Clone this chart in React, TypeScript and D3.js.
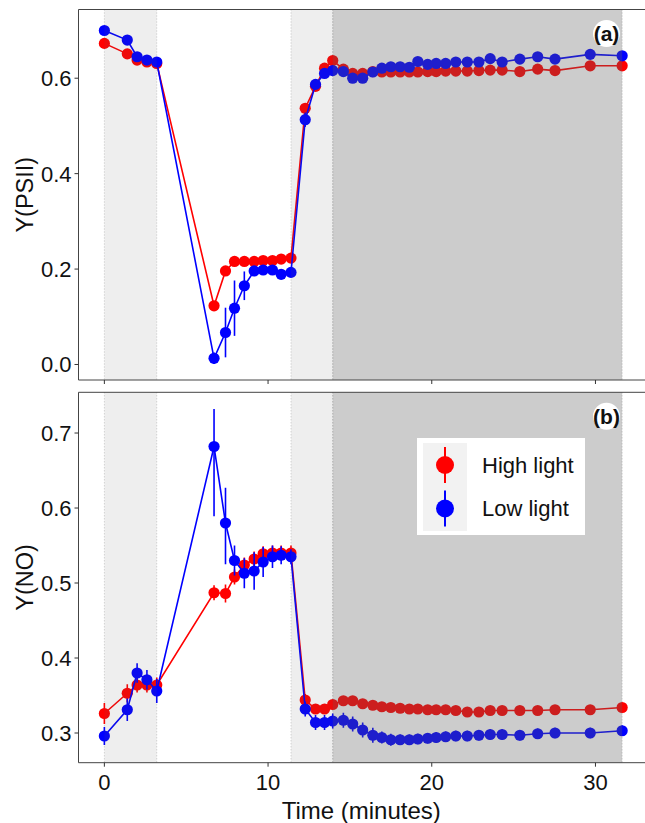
import React from 'react';
import * as d3 from 'd3';

// sampling times (minutes), shared by both panels
const time = [
  0, 1.4, 2.0, 2.6, 3.2,
  6.7, 7.4, 7.95, 8.55, 9.15, 9.7, 10.27, 10.8, 11.4,
  12.27, 12.9, 13.45, 13.95, 14.6, 15.17, 15.78, 16.4, 16.95, 17.5,
  18.07, 18.63, 19.15, 19.75, 20.27, 20.85, 21.47, 22.17, 22.88, 23.57,
  24.3, 25.38, 26.47, 27.53, 29.68, 31.63,
];

// Y(PSII)
const psiiHigh = [
  0.673, 0.651, 0.638, 0.634, 0.631,
  0.123, 0.196, 0.216, 0.216, 0.216, 0.218, 0.218, 0.221, 0.223,
  0.537, 0.583, 0.621, 0.637, 0.619, 0.61, 0.61, 0.614, 0.613, 0.613,
  0.613, 0.613, 0.613, 0.614, 0.614, 0.615, 0.615, 0.615, 0.616, 0.617,
  0.617, 0.614, 0.619, 0.616, 0.626, 0.626,
];
const psiiHighSe = [
  0.008, 0.006, 0.005, 0.005, 0.005,
  0.006, 0.005, 0.004, 0.004, 0.004, 0.004, 0.004, 0.004, 0.004,
  0.006, 0.005, 0.004, 0.004, 0.004, 0.004, 0.004, 0.004, 0.004, 0.004,
  0.004, 0.004, 0.004, 0.004, 0.004, 0.004, 0.004, 0.004, 0.004, 0.004,
  0.004, 0.004, 0.004, 0.004, 0.004, 0.004,
];
const psiiLow = [
  0.7, 0.68, 0.645, 0.638, 0.634,
  0.013, 0.067, 0.118, 0.165, 0.196, 0.198, 0.198, 0.189, 0.193,
  0.513, 0.587, 0.61, 0.616, 0.614, 0.6, 0.6, 0.613, 0.621, 0.624,
  0.624, 0.623, 0.635, 0.629, 0.631, 0.631, 0.634, 0.634, 0.634, 0.641,
  0.634, 0.64, 0.645, 0.64, 0.65, 0.647,
];
const psiiLowSe = [
  0.006, 0.006, 0.006, 0.005, 0.005,
  0.012, 0.052, 0.058, 0.03, 0.008, 0.006, 0.006, 0.01, 0.006,
  0.015, 0.006, 0.005, 0.005, 0.005, 0.005, 0.005, 0.005, 0.006, 0.005,
  0.005, 0.005, 0.006, 0.005, 0.005, 0.005, 0.005, 0.005, 0.005, 0.005,
  0.005, 0.005, 0.005, 0.005, 0.005, 0.005,
];

// Y(NO)
const noHigh = [
  0.326, 0.353, 0.364, 0.364, 0.364,
  0.487, 0.486, 0.508, 0.524, 0.532, 0.539, 0.54, 0.54, 0.54,
  0.344, 0.332, 0.332, 0.338, 0.343, 0.343, 0.339, 0.337, 0.335, 0.334,
  0.333, 0.332, 0.332, 0.331, 0.331, 0.331, 0.33, 0.328, 0.328, 0.33,
  0.33, 0.33, 0.33, 0.331, 0.331, 0.334,
];
const noHighSe = [
  0.014, 0.012, 0.01, 0.01, 0.01,
  0.01, 0.012, 0.01, 0.01, 0.01, 0.01, 0.01, 0.01, 0.01,
  0.008, 0.006, 0.006, 0.006, 0.006, 0.006, 0.006, 0.006, 0.006, 0.006,
  0.005, 0.005, 0.005, 0.005, 0.005, 0.005, 0.005, 0.005, 0.005, 0.005,
  0.005, 0.005, 0.005, 0.005, 0.005, 0.005,
];
const noLow = [
  0.296, 0.331, 0.38, 0.371, 0.356,
  0.682, 0.58, 0.53, 0.513, 0.516, 0.528, 0.535, 0.537, 0.535,
  0.332, 0.314, 0.314, 0.316, 0.317, 0.312, 0.304, 0.297, 0.294, 0.291,
  0.291, 0.291, 0.292, 0.293, 0.294, 0.295, 0.296, 0.296, 0.297, 0.298,
  0.298, 0.297, 0.299, 0.3, 0.3, 0.303,
];
// error bars of the low-light Y(NO) series are not symmetric at the peak
const noLowUp = [
  0.012, 0.015, 0.013, 0.013, 0.016,
  0.05, 0.047, 0.02, 0.02, 0.025, 0.02, 0.015, 0.012, 0.01,
  0.01, 0.01, 0.01, 0.01, 0.01, 0.01, 0.01, 0.01, 0.008, 0.008,
  0.007, 0.007, 0.007, 0.007, 0.007, 0.007, 0.007, 0.007, 0.007, 0.007,
  0.007, 0.007, 0.007, 0.007, 0.007, 0.007,
];
const noLowDown = [
  0.012, 0.015, 0.013, 0.013, 0.016,
  0.093, 0.055, 0.02, 0.02, 0.025, 0.02, 0.015, 0.012, 0.01,
  0.01, 0.01, 0.01, 0.01, 0.01, 0.01, 0.01, 0.01, 0.008, 0.008,
  0.007, 0.007, 0.007, 0.007, 0.007, 0.007, 0.007, 0.007, 0.007, 0.007,
  0.007, 0.007, 0.007, 0.007, 0.007, 0.007,
];

// light phases (shaded bands)
const phaseStart = [0, 11.4, 13.95];
const phaseEnd = [3.2, 13.95, 31.63];
const phaseTone = [0.106, 0.106, 0.318];

const xTicks = [0, 10, 20, 30];
const psiiTicks = [0, 0.2, 0.4, 0.6];
const noTicks = [0.3, 0.4, 0.5, 0.6, 0.7];
const seriesNames = ['High light', 'Low light'];
const seriesColors = ['#ff0000', '#0000ff'];

const FONT = 'Liberation Sans, Arial, Helvetica, sans-serif';
const left = 78.5;
const right = 648;

const x = d3.scaleLinear().domain([-1.58, 33.21]).range([left, right]);

type Series = { v: number[]; up: number[]; down: number[] };

type PanelProps = {
  top: number;
  bottom: number;
  y: d3.ScaleLinear<number, number>;
  series: Series[];
  ticks: number[];
  title: string;
  tag: string;
  xLabels: boolean;
  legend: boolean;
};

const Panel = ({ top, bottom, y, series, ticks, title, tag, xLabels, legend }: PanelProps) => {
  const line = d3
    .line<number>()
    .x((_, i) => x(time[i]))
    .y(d => y(d));

  return (
    <g>
      {/* dotted band edges */}
      {phaseStart.map((s, i) => (
        <g key={'e' + i}>
          {[s, phaseEnd[i]].map((t, j) => (
            <line key={j} x1={x(t)} x2={x(t)} y1={top} y2={bottom}
              stroke="#bdbdbd" strokeWidth={0.8} strokeDasharray="1,2" />
          ))}
        </g>
      ))}

      {series.map((s, k) => (
        <g key={k}>
          <path d={line(s.v) || ''} fill="none" stroke={seriesColors[k]} strokeWidth={1.6} />
          {s.v.map((d, i) => (
            <line key={'b' + i} x1={x(time[i])} x2={x(time[i])}
              y1={y(d - s.down[i])} y2={y(d + s.up[i])}
              stroke={seriesColors[k]} strokeWidth={1.6} />
          ))}
          {s.v.map((d, i) => (
            <circle key={'p' + i} cx={x(time[i])} cy={y(d)} r={5.6} fill={seriesColors[k]} />
          ))}
        </g>
      ))}

      {/* shaded bands laid over the data */}
      {phaseStart.map((s, i) => (
        <rect key={'r' + i} x={x(s)} y={top} width={x(phaseEnd[i]) - x(s)} height={bottom - top}
          fill="#5e5e5e" opacity={phaseTone[i]} />
      ))}

      {/* frame */}
      <path d={`M${right},${top}H${left}V${bottom}H${right}`} fill="none" stroke="#444" strokeWidth={1} />

      {xTicks.map(t => (
        <g key={'xt' + t}>
          <line x1={x(t)} x2={x(t)} y1={bottom} y2={bottom + 4} stroke="#333" strokeWidth={1} />
          {xLabels && (
            <text x={x(t)} y={bottom + 27} textAnchor="middle" fontSize={22} fontFamily={FONT} fill="#111">
              {t}
            </text>
          )}
        </g>
      ))}
      {ticks.map(t => (
        <g key={'yt' + t}>
          <line x1={left - 4} x2={left} y1={y(t)} y2={y(t)} stroke="#333" strokeWidth={1} />
          <text x={left - 7} y={y(t)} dy="0.36em" textAnchor="end" fontSize={22} fontFamily={FONT} fill="#111">
            {t.toFixed(1)}
          </text>
        </g>
      ))}

      <text transform={`translate(33,${(top + bottom) / 2}) rotate(-90)`} textAnchor="middle"
        fontSize={23.5} fontFamily={FONT} fill="#111">
        {title}
      </text>

      <circle cx={606.5} cy={top + 24} r={13.5} fill="#fff" />
      <text x={606.5} y={top + 24} dy="0.36em" textAnchor="middle" fontSize={21} fontWeight="bold"
        fontFamily={FONT} fill="#111">
        {tag}
      </text>

      {legend && (
        <g>
          <rect x={417} y={438} width={168} height={97} fill="#fff" />
          <rect x={423} y={443} width={44} height={88} fill="#f2f2f2" />
          {seriesNames.map((n, k) => {
            const cy = 465 + k * 43.5;
            return (
              <g key={n}>
                <line x1={445} x2={445} y1={cy - 18} y2={cy + 18} stroke={seriesColors[k]} strokeWidth={2} />
                <circle cx={445} cy={cy} r={9} fill={seriesColors[k]} />
                <text x={482} y={cy} dy="0.36em" fontSize={22} fontFamily={FONT} fill="#111">{n}</text>
              </g>
            );
          })}
        </g>
      )}
    </g>
  );
};

export default function App() {
  const yA = d3.scaleLinear().domain([-0.0325, 0.744]).range([380, 9.5]);
  const yB = d3.scaleLinear().domain([0.2604, 0.7543]).range([762.7, 392.3]);

  return (
    <svg width={645} height={823} style={{ position: 'absolute', left: 0, top: 0, background: '#fff' }}>
      <Panel top={9.5} bottom={380} y={yA}
        series={[
          { v: psiiHigh, up: psiiHighSe, down: psiiHighSe },
          { v: psiiLow, up: psiiLowSe, down: psiiLowSe },
        ]}
        ticks={psiiTicks} title="Y(PSII)" tag="(a)" xLabels={false} legend={false} />
      <Panel top={392.3} bottom={762.7} y={yB}
        series={[
          { v: noHigh, up: noHighSe, down: noHighSe },
          { v: noLow, up: noLowUp, down: noLowDown },
        ]}
        ticks={noTicks} title="Y(NO)" tag="(b)" xLabels={true} legend={true} />
      <text x={(left + right) / 2 - 2} y={819} textAnchor="middle" fontSize={24} fontFamily={FONT} fill="#111">
        Time (minutes)
      </text>
    </svg>
  );
}
